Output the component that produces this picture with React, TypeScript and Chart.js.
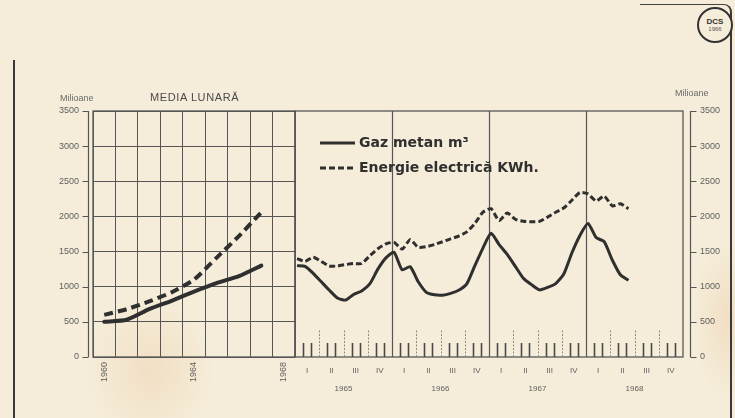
import React, { useEffect, useRef } from 'react';
import { Chart, registerables } from 'chart.js';

Chart.register(...registerables);

// ---------- DATA ----------
// Left panel: monthly average per year ("MEDIA LUNARĂ")
const annualYears = ['1960', '1961', '1962', '1963', '1964', '1965', '1966', '1967', '1968'];
const annualTickLabels = ['1960', '1964', '1968'];
const annualGas = [500, 530, 680, 800, 930, 1050, 1150, 1300, null];
const annualElectric = [600, 680, 790, 920, 1100, 1410, 1720, 2060, null];

// Right panel: monthly values Jan 1965 .. Jun 1968
const monthlyYears = ['1965', '1966', '1967', '1968'];
const quarterLabels = ['I', 'II', 'III', 'IV'];
const monthlyGas = [
  1300, 1290, 1190, 1070, 950, 840, 810, 890, 940, 1040, 1250, 1410,
  1490, 1240, 1285, 1070, 920, 885, 880, 905, 950, 1040, 1300, 1550,
  1760, 1600, 1460, 1290, 1120, 1030, 955, 990, 1045, 1180, 1480, 1730,
  1900, 1700, 1640, 1380, 1170, 1090,
];
const monthlyElectric = [
  1400, 1360, 1420, 1360, 1295, 1295, 1315, 1330, 1330, 1440, 1540, 1610,
  1630, 1535, 1670, 1560, 1570, 1600, 1640, 1680, 1720, 1780, 1900, 2060,
  2110, 1940, 2050, 1960, 1930, 1925, 1930, 1990, 2060, 2120, 2230, 2340,
  2320, 2220, 2290, 2150, 2180, 2110,
];

const seriesNames = ['Gaz metan m³', 'Energie electrică KWh.'];
const yMin = 0;
const yMax = 3500;
const yStep = 500;

// ---------- STYLE ----------
const PAPER = '#f5edd9';
const INK = '#2f2f2f';
const GRID = '#565656';
const LABEL = '#5e5e5e';
const FONT = "'Liberation Sans', 'DejaVu Sans', sans-serif";

const framePlugin = {
  id: 'frame',
  beforeDatasetsDraw(chart: any) {
    const { ctx, chartArea: a } = chart;
    ctx.save();
    ctx.strokeStyle = GRID;
    ctx.lineWidth = 1.3;
    ctx.strokeRect(a.left, a.top, a.right - a.left, a.bottom - a.top);
    ctx.restore();
  },
};

const sideAxisPlugin = {
  id: 'sideAxis',
  afterDraw(chart: any, _args: any, opts: any) {
    const { ctx, chartArea: a } = chart;
    const ys = chart.scales.y;
    const left = opts.side === 'left';
    const x = Math.round(left ? a.left - opts.gap : a.right + opts.gap) + 0.5;
    const dir = left ? -1 : 1;
    ctx.save();
    ctx.strokeStyle = GRID;
    ctx.lineWidth = 1.2;
    ctx.beginPath();
    ctx.moveTo(x, a.top);
    ctx.lineTo(x, a.bottom);
    ys.ticks.forEach((t: any) => {
      const py = Math.round(ys.getPixelForValue(t.value)) + 0.5;
      ctx.moveTo(x, py);
      ctx.lineTo(x + dir * 6, py);
    });
    ctx.stroke();
    ctx.restore();
  },
};

const monthMarksPlugin = {
  id: 'monthMarks',
  beforeDatasetsDraw(chart: any, _args: any, opts: any) {
    const { ctx, chartArea: a } = chart;
    const xs = chart.scales.x;
    ctx.save();
    for (let k = 1; k < opts.months; k++) {
      const px = Math.round(xs.getPixelForValue(k + opts.shift)) + 0.5;
      ctx.beginPath();
      if (k % 12 === 0) {
        ctx.strokeStyle = GRID;
        ctx.lineWidth = 1.2;
        ctx.setLineDash([]);
        ctx.moveTo(px, a.top);
        ctx.lineTo(px, a.bottom);
      } else if (k % 3 === 0) {
        ctx.strokeStyle = '#8f8a80';
        ctx.lineWidth = 1;
        ctx.setLineDash([2, 1.5]);
        ctx.moveTo(px, a.bottom);
        ctx.lineTo(px, a.bottom - 28);
      } else {
        ctx.strokeStyle = '#4a4a4a';
        ctx.lineWidth = 1.6;
        ctx.setLineDash([]);
        ctx.moveTo(px, a.bottom);
        ctx.lineTo(px, a.bottom - 14);
      }
      ctx.stroke();
    }
    ctx.restore();
  },
};

const insideLegendPlugin = {
  id: 'insideLegend',
  afterDatasetsDraw(chart: any, _args: any, opts: any) {
    const { ctx, chartArea: a } = chart;
    ctx.save();
    chart.data.datasets.forEach((ds: any, i: number) => {
      const y = a.top + opts.top + i * opts.rowGap;
      const x0 = a.left + opts.left;
      ctx.strokeStyle = INK;
      ctx.lineWidth = 3;
      ctx.setLineDash(i === 0 ? [] : [6, 3]);
      ctx.beginPath();
      ctx.moveTo(x0, y);
      ctx.lineTo(x0 + opts.sample, y);
      ctx.stroke();
      ctx.setLineDash([]);
      ctx.fillStyle = INK;
      ctx.font = "bold 14px 'DejaVu Sans', sans-serif";
      ctx.textBaseline = 'middle';
      ctx.fillText(ds.label, x0 + opts.sample + 4, y);
    });
    ctx.restore();
  },
};

const yScale = (position: 'left' | 'right', width: number, padding: number, grid: boolean) => ({
  type: 'linear',
  position,
  min: yMin,
  max: yMax,
  ticks: {
    stepSize: yStep,
    padding,
    color: LABEL,
    font: { family: FONT, size: 9 },
    callback: (v: any) => String(v),
  },
  grid: grid
    ? { display: true, color: GRID, lineWidth: 1, drawTicks: false }
    : { display: false, drawTicks: false },
  border: { display: false },
  afterFit(s: any) {
    s.width = width;
  },
});

export default function App() {
  const leftRef = useRef<HTMLCanvasElement>(null);
  const rightRef = useRef<HTMLCanvasElement>(null);

  useEffect(() => {
    const left = new Chart(leftRef.current as HTMLCanvasElement, {
      type: 'line',
      data: {
        labels: annualYears,
        datasets: [
          {
            label: seriesNames[0],
            data: annualGas,
            borderColor: INK,
            borderWidth: 4,
            pointRadius: 0,
            tension: 0.2,
            borderCapStyle: 'round',
          },
          {
            label: seriesNames[1],
            data: annualElectric,
            borderColor: INK,
            borderWidth: 4,
            borderDash: [9, 5],
            pointRadius: 0,
            tension: 0.2,
          },
        ],
      },
      options: {
        animation: false,
        responsive: false,
        devicePixelRatio: 1,
        layout: { padding: { top: 111, right: 5, left: 0, bottom: 0 } },
        plugins: {
          legend: { display: false },
          tooltip: { enabled: false },
          sideAxis: { side: 'left', gap: 5 },
        } as any,
        scales: {
          x: {
            type: 'category',
            offset: true,
            grid: { display: true, offset: true, color: GRID, lineWidth: 1, drawTicks: false },
            border: { display: false },
            ticks: {
              autoSkip: false,
              minRotation: 90,
              maxRotation: 90,
              padding: 5,
              color: LABEL,
              font: { family: FONT, size: 9 },
              callback: (_v: any, i: number) =>
                annualTickLabels.includes(annualYears[i]) ? annualYears[i] : '',
            },
            afterFit(s: any) {
              s.height = 61;
            },
          },
          y: yScale('left', 93, 14, true),
        } as any,
      },
      plugins: [framePlugin, sideAxisPlugin],
    });

    const right = new Chart(rightRef.current as HTMLCanvasElement, {
      type: 'line',
      data: {
        datasets: [
          {
            label: seriesNames[0],
            data: monthlyGas.map((v, i) => ({ x: i, y: v })),
            borderColor: INK,
            borderWidth: 3,
            pointRadius: 0,
            tension: 0.2,
          },
          {
            label: seriesNames[1],
            data: monthlyElectric.map((v, i) => ({ x: i, y: v })),
            borderColor: INK,
            borderWidth: 3,
            borderDash: [6, 3],
            pointRadius: 0,
            tension: 0.2,
          },
        ],
      },
      options: {
        animation: false,
        responsive: false,
        devicePixelRatio: 1,
        layout: { padding: { top: 111, right: 0, left: 45, bottom: 0 } },
        plugins: {
          legend: { display: false },
          tooltip: { enabled: false },
          sideAxis: { side: 'right', gap: 7 },
          monthMarks: { months: 48, shift: -0.25 },
          insideLegend: { top: 32, rowGap: 25, left: 25, sample: 35 },
        } as any,
        scales: {
          x: {
            type: 'linear',
            position: 'bottom',
            weight: 0,
            min: -0.25,
            max: 47.75,
            grid: { display: false, drawTicks: false },
            border: { display: false },
            afterBuildTicks(s: any) {
              const t: any[] = [];
              monthlyYears.forEach((_y, yi) =>
                quarterLabels.forEach((_q, qi) => t.push({ value: yi * 12 + qi * 3 + 1.25 }))
              );
              s.ticks = t;
            },
            ticks: {
              autoSkip: false,
              maxRotation: 0,
              padding: 9,
              color: LABEL,
              font: { family: FONT, size: 8 },
              callback: (_v: any, i: number) => quarterLabels[i % quarterLabels.length],
            },
            afterFit(s: any) {
              s.height = 22;
            },
          },
          x2: {
            type: 'linear',
            position: 'bottom',
            weight: 1,
            min: -0.25,
            max: 47.75,
            grid: { display: false, drawTicks: false },
            border: { display: false },
            afterBuildTicks(s: any) {
              s.ticks = monthlyYears.map((_y, yi) => ({ value: yi * 12 + 5.75 }));
            },
            ticks: {
              autoSkip: false,
              maxRotation: 0,
              padding: 5,
              color: LABEL,
              font: { family: FONT, size: 8 },
              callback: (_v: any, i: number) => monthlyYears[i],
            },
            afterFit(s: any) {
              s.height = 39;
            },
          },
          y: yScale('right', 52, 17, false),
        } as any,
      },
      plugins: [framePlugin, sideAxisPlugin, monthMarksPlugin, insideLegendPlugin],
    });

    return () => {
      left.destroy();
      right.destroy();
    };
  }, []);

  const abs = (l: number, t: number): React.CSSProperties => ({ position: 'absolute', left: l, top: t });

  return (
    <div
      style={{
        position: 'fixed',
        left: 0,
        top: 0,
        width: 735,
        height: 418,
        overflow: 'hidden',
        background: `radial-gradient(ellipse 65px 75px at 150px 370px, rgba(238,205,170,0.45), rgba(238,205,170,0) 100%), radial-gradient(ellipse 35px 80px at 728px 320px, rgba(235,200,165,0.4), rgba(235,200,165,0) 100%), ${PAPER}`,
        fontFamily: FONT,
        color: '#4a4a4a',
      }}
    >
      {/* outer frame */}
      <div style={{ ...abs(13, 60), width: 0, height: 360, borderLeft: '2px solid #3a3a3a' }} />
      <div
        style={{
          ...abs(640, 4),
          width: 90,
          height: 420,
          borderTop: '1.5px solid #444',
          borderRight: '2px solid #3a3a3a',
          borderTopRightRadius: 8,
        }}
      />
      {/* DCS badge */}
      <div
        style={{
          ...abs(697, 7),
          width: 32,
          height: 32,
          borderRadius: '50%',
          border: '2px solid #333',
          background: PAPER,
          display: 'flex',
          flexDirection: 'column',
          alignItems: 'center',
          justifyContent: 'center',
          lineHeight: 1,
        }}
      >
        <span style={{ fontSize: 8, fontWeight: 'bold', color: '#333' }}>DCS</span>
        <span style={{ fontSize: 6, color: '#555' }}>1966</span>
      </div>

      <canvas ref={leftRef} width={300} height={418} style={{ ...abs(0, 0), width: 300, height: 418 }} />
      <canvas ref={rightRef} width={485} height={418} style={{ ...abs(250, 0), width: 485, height: 418 }} />

      <div style={{ ...abs(60, 93), fontSize: 9, color: '#6a6a6a', whiteSpace: 'nowrap' }}>Milioane</div>
      <div style={{ ...abs(150, 91), fontSize: 11, color: '#4a4a4a', letterSpacing: 0.6, whiteSpace: 'nowrap' }}>
        MEDIA LUNARĂ
      </div>
      <div style={{ ...abs(675, 88), fontSize: 9, color: '#6a6a6a', whiteSpace: 'nowrap' }}>Milioane</div>
    </div>
  );
}
